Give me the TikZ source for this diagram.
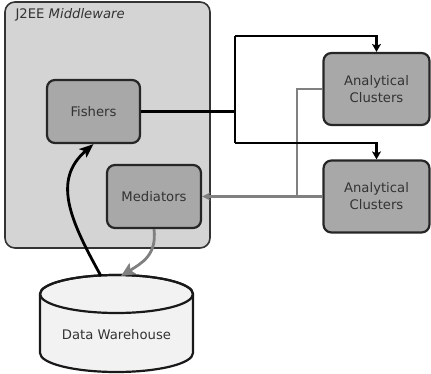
\documentclass[tikz,border=0pt]{standalone}
\usepackage{fontspec}
\setmainfont{DejaVu Sans}
\usetikzlibrary{arrows.meta}
\definecolor{panelgray}{HTML}{D4D4D4}
\definecolor{boxgray}{HTML}{A8A8A8}
\definecolor{linegray}{HTML}{808080}
\definecolor{tankfill}{HTML}{F2F2F2}
\definecolor{inkgray}{HTML}{333333}
\tikzset{
  labelfont/.style={font=\fontsize{13.2}{17}\selectfont, text=inkgray},
  panel/.style={draw=black!80, line width=1.6pt, fill=panelgray, rounded corners=10pt},
  unit/.style={draw=black!85, line width=2.2pt, fill=boxgray, rounded corners=8pt,
    align=center, labelfont, inner sep=0pt},
  darkflow/.style={draw=black, line width=2.8pt},
  greyflow/.style={draw=linegray, line width=2.8pt},
  tank/.style={draw=black!90, line width=2.2pt, fill=tankfill}
}
\begin{document}
\begin{tikzpicture}[x=1pt, y=-1pt]
  \useasboundingbox (0,0) rectangle (431,374);

  % middleware container
  \node[panel, minimum width=205pt, minimum height=246pt] (mw) at (107.5,125) {};
  \node[labelfont, anchor=base west] (mwlabel) at (12,19) {J2EE \textit{Middleware}};

  % components
  \node[unit, minimum width=93pt, minimum height=63pt] (fish) at (93.5,111.5) {Fishers};
  \node[unit, minimum width=94pt, minimum height=63pt] (med) at (154,196.5) {Mediators};
  \node[unit, minimum width=106pt, minimum height=72pt] (ac1) at (376.5,89) {Analytical\\Clusters};
  \node[unit, minimum width=106pt, minimum height=72pt] (ac2) at (376.5,196.5) {Analytical\\Clusters};

  % data warehouse cylinder
  \filldraw[tank] (40,294) -- (40,353)
    arc[start angle=180, end angle=360, x radius=76.5pt, y radius=19pt]
    -- (193,294)
    arc[start angle=0, end angle=180, x radius=76.5pt, y radius=19pt] -- cycle;
  \draw[tank, fill=none] (116.5,294) ellipse[x radius=76.5pt, y radius=19pt];
  \node[labelfont] (dw) at (116.5,335) {Data Warehouse};
  \coordinate (dwout) at (101,276);
  \coordinate (dwin) at (121,276);

  % results flowing back from the clusters
  \coordinate (gjoin) at (297,196.5);
  \draw[greyflow] (ac1.west) -| (gjoin);
  \draw[greyflow, -{Stealth[length=8pt, width=8pt, inset=2pt]}] (ac2.west) -- (med.east);

  % work distributed to the clusters
  \coordinate (ja) at (235,36);
  \coordinate (jb) at (235,143);
  \draw[darkflow] (fish.east) -- (fish.east -| ja);
  \draw[darkflow] (ja) -- (jb);
  \draw[darkflow, -{Stealth[length=8pt, width=9pt, inset=2pt]}] (ja) -| (ac1.north);
  \draw[darkflow, -{Stealth[length=8pt, width=9pt, inset=2pt]}] (jb) -| (ac2.north);

  % warehouse links
  \draw[darkflow, -{Stealth[length=14pt, width=11pt, inset=3pt]}]
    (dwout) .. controls (70,220) and (52,180) .. (fish.south);
  \draw[greyflow, -{Stealth[length=14pt, width=13pt, inset=3pt]}]
    (med.south) .. controls (157,255) and (142,263) .. (dwin);
\end{tikzpicture}
\end{document}
